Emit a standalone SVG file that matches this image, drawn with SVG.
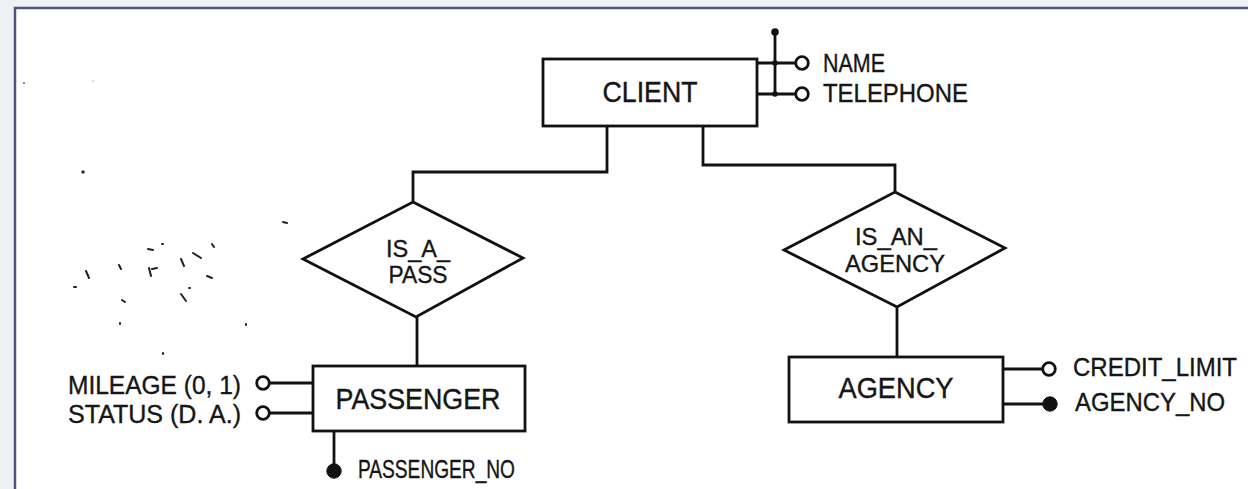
<svg xmlns="http://www.w3.org/2000/svg" width="1248" height="489" viewBox="0 0 1248 489">
  <style>
    .ln { fill: none; stroke: #111; stroke-width: 2.8; stroke-linecap: square; stroke-linejoin: miter; }
    .shape { fill: #fff; stroke: #111; stroke-width: 2.8; }
    .opt { fill: #fff; stroke: #111; stroke-width: 2.8; }
    .key { fill: #111; stroke: #111; stroke-width: 1; }
    .ent { font-family: "Liberation Sans", Arial, sans-serif; font-size: 29px; fill: #161616; stroke: #161616; stroke-width: 0.4; text-anchor: middle; }
    .rel { font-family: "Liberation Sans", Arial, sans-serif; font-size: 24px; fill: #161616; stroke: #161616; stroke-width: 0.35; text-anchor: middle; }
    .att { font-family: "Liberation Sans", Arial, sans-serif; font-size: 25px; fill: #161616; stroke: #161616; stroke-width: 0.35; }
    .speck { fill: none; stroke: #222; stroke-width: 2; stroke-linecap: round; }
  </style>

  <!-- page background and frame -->
  <rect x="0" y="0" width="1248" height="489" fill="#eef0f4"/>
  <rect x="15" y="8" width="1260" height="500" fill="#fff" stroke="#51537a" stroke-width="2.5"/>

  <!-- scan specks -->
  <g id="specks">
    <circle cx="83" cy="172" r="1.8" fill="#333"/>
    <circle cx="24" cy="83" r="1" fill="#666"/>
    <circle cx="93" cy="81" r="0.8" fill="#aaa"/>
    <path class="speck" d="M148 249l5 1M162 244l1 0M86 271l3 7M119 265l2 4M149 268l2 8M152 269l5 -1M181 259l3 7M193 253l8 5M212 244l2 3M207 276l5 2M181 294l5 7M122 300l3 2M120 323l0 1M246 324l0 1M283 222l4 1M74 287l2 0M189 288l1 0M163 353l0 1"/>
  </g>

  <!-- connectors -->
  <g id="connectors">
    <!-- CLIENT to IS_A_PASS -->
    <polyline class="ln" points="607,126 607,172 413,172 413,202"/>
    <!-- CLIENT to IS_AN_AGENCY -->
    <polyline class="ln" points="703,126 703,165 895,165 895,192"/>
    <!-- IS_A_PASS to PASSENGER -->
    <line class="ln" x1="417" y1="317" x2="417" y2="366"/>
    <!-- IS_AN_AGENCY to AGENCY -->
    <line class="ln" x1="897" y1="307" x2="897" y2="357"/>

    <!-- CLIENT attributes (composite identifier bar) -->
    <line class="ln" x1="757" y1="63" x2="796" y2="63"/>
    <line class="ln" x1="757" y1="94" x2="796" y2="94"/>
    <line class="ln" x1="775" y1="32" x2="775" y2="94"/>
    <circle cx="775" cy="32" r="3.8" fill="#111"/>
    <circle cx="775" cy="63" r="2.8" fill="#111"/>
    <circle cx="775" cy="94" r="2.8" fill="#111"/>
    <circle class="opt" cx="802" cy="63" r="6.3"/>
    <circle class="opt" cx="802" cy="94" r="6.3"/>

    <!-- PASSENGER attributes -->
    <line class="ln" x1="269" y1="383" x2="313" y2="383"/>
    <line class="ln" x1="269" y1="413" x2="313" y2="413"/>
    <circle class="opt" cx="263" cy="383" r="6.3"/>
    <circle class="opt" cx="263" cy="413" r="6.3"/>
    <line class="ln" x1="334" y1="431" x2="334" y2="466"/>
    <circle class="key" cx="334" cy="471" r="7.2"/>

    <!-- AGENCY attributes -->
    <line class="ln" x1="1003" y1="369" x2="1043" y2="369"/>
    <line class="ln" x1="1003" y1="404" x2="1043" y2="404"/>
    <circle class="opt" cx="1049" cy="369" r="6.3"/>
    <circle class="key" cx="1050" cy="404" r="7.2"/>
  </g>

  <!-- entities -->
  <g id="client">
    <rect class="shape" x="543" y="59" width="214" height="67"/>
    <text class="ent" x="650" y="102" textLength="95" lengthAdjust="spacingAndGlyphs">CLIENT</text>
  </g>
  <g id="passenger">
    <rect class="shape" x="313" y="366" width="212" height="65"/>
    <text class="ent" x="418" y="409" textLength="165" lengthAdjust="spacingAndGlyphs">PASSENGER</text>
  </g>
  <g id="agency">
    <rect class="shape" x="789" y="357" width="214" height="65"/>
    <text class="ent" x="896" y="398" textLength="115" lengthAdjust="spacingAndGlyphs">AGENCY</text>
  </g>

  <!-- relationships -->
  <g id="is_a_pass">
    <polygon class="shape" points="413,202 523,258 416,317 303,259"/>
    <text class="rel" x="418" y="257" textLength="64" lengthAdjust="spacingAndGlyphs">IS_A_</text>
    <text class="rel" x="418" y="283" textLength="59" lengthAdjust="spacingAndGlyphs">PASS</text>
  </g>
  <g id="is_an_agency">
    <polygon class="shape" points="895,192 1005,248 897,307 784,250"/>
    <text class="rel" x="896" y="245" textLength="82" lengthAdjust="spacingAndGlyphs">IS_AN_</text>
    <text class="rel" x="895" y="272" textLength="100" lengthAdjust="spacingAndGlyphs">AGENCY</text>
  </g>

  <!-- attribute labels -->
  <g id="attr-client">
    <text class="att" x="823" y="72" textLength="62" lengthAdjust="spacingAndGlyphs">NAME</text>
    <text class="att" x="823" y="102" textLength="145" lengthAdjust="spacingAndGlyphs">TELEPHONE</text>
  </g>
  <g id="attr-passenger">
    <text class="att" x="241" y="394" text-anchor="end" textLength="173" lengthAdjust="spacingAndGlyphs">MILEAGE (0, 1)</text>
    <text class="att" x="241" y="423" text-anchor="end" textLength="173" lengthAdjust="spacingAndGlyphs">STATUS (D. A.)</text>
    <text class="att" x="358" y="478" textLength="157" lengthAdjust="spacingAndGlyphs">PASSENGER_NO</text>
  </g>
  <g id="attr-agency">
    <text class="att" x="1073" y="376" textLength="164" lengthAdjust="spacingAndGlyphs">CREDIT_LIMIT</text>
    <text class="att" x="1075" y="411" textLength="150" lengthAdjust="spacingAndGlyphs">AGENCY_NO</text>
  </g>
</svg>
